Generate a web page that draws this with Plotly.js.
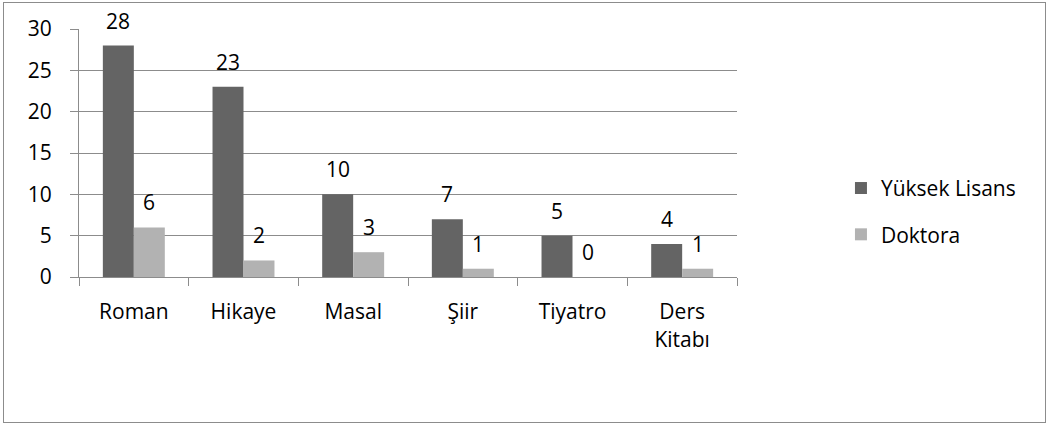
<!DOCTYPE html>
<html><head><meta charset="utf-8">
<script src="https://cdn.plot.ly/plotly-3.0.1.min.js"></script>
<style>html,body{margin:0;padding:0;background:#fff;}#wrap{position:relative;width:1049px;height:426px;}#chart{width:1049px;height:426px;}#frame{position:absolute;left:3px;top:2px;width:1041px;height:419px;border:1px solid #8c8c8c;pointer-events:none;}</style>
</head><body>
<div id="wrap"><div id="chart"></div><div id="frame"></div></div>
<script>
const categories = ["Roman", "Hikaye", "Masal", "Şiir", "Tiyatro", "Ders<br>Kitabı"];
const yuksekLisans = [28, 23, 10, 7, 5, 4];
const doktora = [6, 2, 3, 1, 0, 1];
const seriesNames = ["Yüksek Lisans", "Doktora"];
const fontFam = "'Open Sans', sans-serif";
const fs = 21;
const traces = [
  {type:'bar', name:seriesNames[0], legendgroup:'a', x:categories, y:yuksekLisans, marker:{color:'#646464'}},
  {type:'bar', name:seriesNames[1], legendgroup:'b', x:categories, y:doktora, marker:{color:'#b2b2b2'}}
];
// data labels, placed at each bar's value, shifted to the bar's half of the group
const barHalf = 15.5;
const annotations = [];
[yuksekLisans, doktora].forEach((vals, si) => {
  vals.forEach((v, i) => {
    annotations.push({x:categories[i], y:v, xref:'x', yref:'y', text:String(v), showarrow:false,
      xanchor:'center', yanchor:'bottom', xshift:(si === 0 ? -barHalf : barHalf), yshift:9,
      font:{family:fontFam, size:fs, color:'#000'}});
  });
});
const layout = {
  width:1049, height:426,
  margin:{l:79, r:312, t:29, b:149},
  paper_bgcolor:'#fff', plot_bgcolor:'#fff',
  font:{family:fontFam, size:fs, color:'#000'},
  barmode:'group', bargap:0.435, bargroupgap:0,
  showlegend:true,
  legend:{x:1.158, xanchor:'left', y:0.44, yanchor:'top', font:{size:fs}, traceorder:'grouped', tracegroupgap:16, itemwidth:30},
  annotations: annotations,
  xaxis:{showline:true, linecolor:'#8c8c8c', linewidth:1, ticks:'outside', tickson:'boundaries',
         ticklen:8, tickcolor:'#8c8c8c', showgrid:false, ticklabelstandoff:16, fixedrange:true},
  yaxis:{range:[0,30], dtick:5, showline:true, linecolor:'#8c8c8c', linewidth:1, ticks:'outside',
         ticklen:8, tickcolor:'#8c8c8c', showgrid:true, gridcolor:'#8c8c8c', gridwidth:1,
         zeroline:false, ticklabelstandoff:14, fixedrange:true}
};
Plotly.newPlot('chart', traces, layout, {displayModeBar:false, staticPlot:true});
</script>
</body></html>
